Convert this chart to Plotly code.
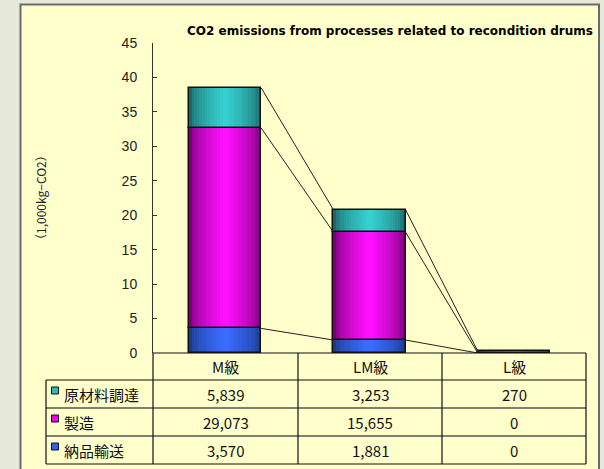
import plotly.graph_objects as go

# ---------------- data ----------------
categories = ["M級", "LM級", "L級"]
series_names = ["原材料調達", "製造", "納品輸送"]          # table order (top -> bottom)
raw_material = [5839, 3253, 270]
manufacturing = [29073, 15655, 0]
delivery = [3570, 1881, 0]
title_text = "CO2 emissions from processes related to recondition drums"
y_title = "（1,000kg−CO2）"
y_ticks = [0, 5, 10, 15, 20, 25, 30, 35, 40, 45]

# ---------------- styling ----------------
W, H = 604, 469
L, R, T, B = 153, 586, 43, 353
JP = "Noto Sans CJK JP"
edge_cols = {"原材料調達": "#1b6868", "製造": "#780078", "納品輸送": "#1b3a88"}
center_cols = {"原材料調達": "#36d0d0", "製造": "#ff10ff", "納品輸送": "#3a6cff"}
key_cols = {"原材料調達": "#2fb8b8", "製造": "#ee00ee", "納品輸送": "#2f5ef0"}


def px(x):
    return (x - L) / (R - L)


def py(y):
    return (B - y) / (B - T)


def mix(c1, c2, t):
    a = [int(c1[i:i + 2], 16) for i in (1, 3, 5)]
    b = [int(c2[i:i + 2], 16) for i in (1, 3, 5)]
    return "rgb(%d,%d,%d)" % tuple(round(a[j] + (b[j] - a[j]) * t) for j in range(3))


values = {
    "原材料調達": [v / 1000 for v in raw_material],
    "製造": [v / 1000 for v in manufacturing],
    "納品輸送": [v / 1000 for v in delivery],
}
raw = {"原材料調達": raw_material, "製造": manufacturing, "納品輸送": delivery}
stack_order = ["納品輸送", "製造", "原材料調達"]   # bottom -> top

xs = list(range(len(categories)))
fig = go.Figure()

BW = 0.5
N = 14
base = [0.0] * len(xs)
tops = []
for name in stack_order:
    vals = values[name]
    for k in range(N):
        w = BW * (1 - k / N)
        t = (k / (N - 1)) ** 0.6
        fig.add_trace(go.Bar(x=xs, y=vals, base=base, width=w,
                             marker=dict(color=mix(edge_cols[name], center_cols[name], t),
                                         line=dict(width=0)),
                             showlegend=False, hoverinfo="skip"))
    fig.add_trace(go.Bar(x=xs, y=vals, base=base, width=BW, name=name,
                         marker=dict(color="rgba(0,0,0,0)", line=dict(color="#111", width=1.5)),
                         showlegend=False))
    base = [b + v for b, v in zip(base, vals)]
    tops.append(list(base))

# connector lines between stacked levels
for lvl in tops:
    for i in range(len(xs) - 1):
        fig.add_trace(go.Scatter(x=[xs[i] + BW / 2, xs[i + 1] - BW / 2], y=[lvl[i], lvl[i + 1]],
                                 mode="lines", line=dict(color="#222", width=1),
                                 showlegend=False, hoverinfo="skip"))

shapes = []
# panel
shapes.append(dict(type="rect", xref="paper", yref="paper", layer="below",
                   x0=px(20.5), x1=px(599), y0=py(480), y1=py(4.5),
                   fillcolor="#ffffcc", line=dict(color="#6a6a6a", width=2)))

# table grid
row_y = [353, 380, 408, 436, 464]
col_x = [153, 298, 442, 586]
leg_x = 46


def hline(y, x0, x1, color="#111", w=1.2):
    shapes.append(dict(type="line", xref="paper", yref="paper", x0=px(x0), x1=px(x1),
                       y0=py(y), y1=py(y), line=dict(color=color, width=w)))


def vline(x, y0, y1, color="#111", w=1.2):
    shapes.append(dict(type="line", xref="paper", yref="paper", x0=px(x), x1=px(x),
                       y0=py(y0), y1=py(y1), line=dict(color=color, width=w)))


hline(row_y[0], col_x[0], col_x[-1])
hline(row_y[1], leg_x, col_x[-1])
hline(row_y[2], leg_x, col_x[-1], "#555", 1.5)
hline(row_y[3], leg_x, col_x[-1], "#555", 1.5)
hline(row_y[4], leg_x, col_x[-1])
vline(leg_x, row_y[1], row_y[4])
for cx in col_x:
    vline(cx, row_y[0], row_y[4])

annotations = []
for j, cat in enumerate(categories):
    cx = (col_x[j] + col_x[j + 1]) / 2
    annotations.append(dict(text=cat, xref="paper", yref="paper", x=px(cx), y=py((row_y[0] + row_y[1]) / 2),
                            showarrow=False, xanchor="center", yanchor="middle",
                            font=dict(family=JP, size=15, color="#111")))

for r, name in enumerate(series_names):
    yc = (row_y[r + 1] + row_y[r + 2]) / 2
    shapes.append(dict(type="rect", xref="paper", yref="paper",
                       x0=px(51.5), x1=px(58.5), y0=py(yc - 7), y1=py(yc),
                       fillcolor=key_cols[name], line=dict(color="#111", width=1)))
    annotations.append(dict(text=name, xref="paper", yref="paper", x=px(62), y=py(yc + 0.5),
                            showarrow=False, xanchor="left", yanchor="middle",
                            font=dict(family=JP, size=15, color="#111")))
    for j in range(len(categories)):
        cx = (col_x[j] + col_x[j + 1]) / 2
        annotations.append(dict(text=f"{raw[name][j]:,}", xref="paper", yref="paper",
                                x=px(cx), y=py(yc + 0.5), showarrow=False,
                                xanchor="center", yanchor="middle",
                                font=dict(family=JP, size=15, color="#111")))

annotations.append(dict(text=f"<b>{title_text}</b>", xref="paper", yref="paper",
                        x=px(595), y=py(31), showarrow=False, xanchor="right", yanchor="middle",
                        font=dict(family="DejaVu Sans", size=12, color="#000")))
annotations.append(dict(text=y_title, xref="paper", yref="paper", x=px(40), y=py(198),
                        showarrow=False, textangle=-90, xanchor="center", yanchor="middle",
                        font=dict(family=JP, size=12, color="#222")))

fig.update_layout(
    width=W, height=H,
    margin=dict(l=L, r=W - R, t=T, b=H - B, pad=0),
    paper_bgcolor="#e6e9d9",
    plot_bgcolor="rgba(0,0,0,0)",
    barmode="overlay",
    bargap=0,
    showlegend=False,
    shapes=shapes,
    annotations=annotations,
    xaxis=dict(range=[-0.5, 2.5], showticklabels=False, showgrid=False, zeroline=False,
               showline=False, ticks="", fixedrange=True),
    yaxis=dict(range=[0, 45], tickvals=y_ticks, ticks="inside", ticklen=4, tickcolor="#333",
               showline=True, linecolor="#333", linewidth=1, showgrid=False, zeroline=False,
               ticklabelstandoff=12,
               tickfont=dict(family="Liberation Sans, Arial", size=14, color="#222"),
               fixedrange=True),
)

fig.write_html("out.html")
